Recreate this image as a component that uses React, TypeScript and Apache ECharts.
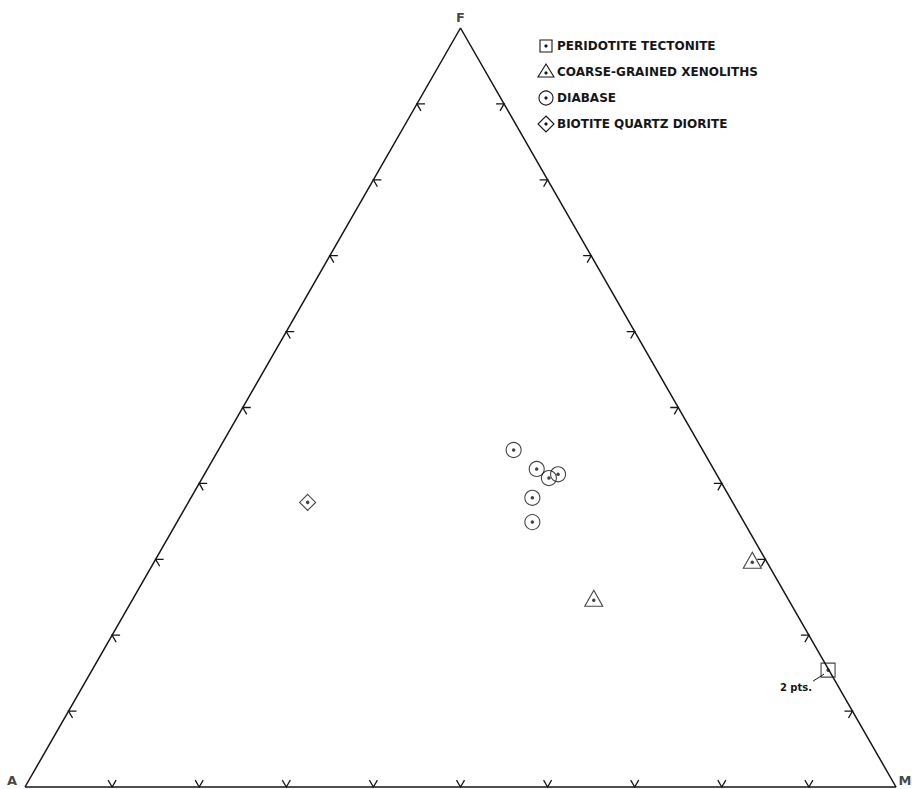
import React, { useEffect, useRef } from "react";
import * as echarts from "echarts";

// Ternary data: [A, F, M] in percent
const vertexNames = ["A", "F", "M"];
const peridotite = [[0.1, 15.4, 84.5]];
const xenoliths = [
  [22.4, 24.6, 53.0],
  [1.7, 29.6, 68.7],
];
const diabase = [
  [21.7, 44.4, 33.9],
  [20.3, 41.9, 37.8],
  [19.5, 40.7, 39.8],
  [18.2, 41.2, 40.6],
  [22.7, 38.1, 39.2],
  [24.3, 34.9, 40.8],
];
const diorite = [[48.8, 37.5, 13.7]];
const tickPercents = [10, 20, 30, 40, 50, 60, 70, 80, 90];
const legendNames = [
  "PERIDOTITE TECTONITE",
  "COARSE-GRAINED XENOLITHS",
  "DIABASE",
  "BIOTITE QUARTZ DIORITE",
];
const pointNote = "2 pts.";

const H = Math.sqrt(3) / 2;
const toXY = (t: number[]) => [t[2] + t[1] / 2, t[1] * H];

export default function App() {
  const ref = useRef<HTMLDivElement>(null);
  useEffect(() => {
    if (!ref.current) return;
    const chart = echarts.init(ref.current, null, { renderer: "svg" });
    const FONT = "DejaVu Sans";
    const ink = "#161616";

    const vA = [100, 0, 0];
    const vF = [0, 100, 0];
    const vM = [0, 0, 100];

    // ticks: [x, y, edge] edge 0 = bottom (A-M), 1 = left (A-F), 2 = right (F-M)
    const ticks: number[][] = [];
    tickPercents.forEach((p) => {
      ticks.push([...toXY([100 - p, 0, p]), 0]);
      ticks.push([...toXY([100 - p, p, 0]), 1]);
      ticks.push([...toXY([0, p, 100 - p]), 2]);
    });

    const c60 = 0.5;
    const s60 = Math.sqrt(3) / 2;
    const armDirs: number[][][] = [
      [
        [-c60, -s60],
        [c60, -s60],
      ],
      [
        [1, 0],
        [c60, s60],
      ],
      [
        [-1, 0],
        [-c60, s60],
      ],
    ];
    const L = 8;

    const outline = {
      color: "rgba(0,0,0,0)",
      borderColor: ink,
      borderWidth: 1.1,
    };

    const allPts = [...peridotite, ...xenoliths, ...diabase, ...diorite];

    chart.setOption({
      animation: false,
      backgroundColor: "#fff",
      grid: { left: 25, right: 16, top: 28, bottom: 2 },
      xAxis: { type: "value", min: 0, max: 100, show: false },
      yAxis: { type: "value", min: 0, max: 100 * H, show: false },
      series: [
        {
          type: "line",
          data: [toXY(vA), toXY(vM), toXY(vF), toXY(vA)],
          symbol: "none",
          lineStyle: { color: ink, width: 1.5 },
          silent: true,
          clip: false,
        },
        {
          type: "custom",
          data: ticks,
          clip: false,
          silent: true,
          renderItem: (params: any, api: any) => {
            const p = api.coord([api.value(0), api.value(1)]);
            const e = api.value(2);
            const d = armDirs[e];
            return {
              type: "polyline",
              shape: {
                points: [
                  [p[0] + d[0][0] * L, p[1] + d[0][1] * L],
                  [p[0], p[1]],
                  [p[0] + d[1][0] * L, p[1] + d[1][1] * L],
                ],
              },
              style: { stroke: ink, lineWidth: 1.3, fill: null },
            };
          },
        },
        {
          type: "scatter",
          name: legendNames[0],
          data: peridotite.map(toXY),
          symbol: "rect",
          symbolSize: 14,
          itemStyle: outline,
        },
        {
          type: "scatter",
          name: legendNames[1],
          data: xenoliths.map(toXY),
          symbol: "triangle",
          symbolSize: [18, 16],
          symbolOffset: [0, -2],
          itemStyle: outline,
        },
        {
          type: "scatter",
          name: legendNames[2],
          data: diabase.map(toXY),
          symbol: "circle",
          symbolSize: 15,
          itemStyle: outline,
        },
        {
          type: "scatter",
          name: legendNames[3],
          data: diorite.map(toXY),
          symbol: "diamond",
          symbolSize: 16,
          itemStyle: outline,
        },
        {
          type: "scatter",
          data: allPts.map(toXY),
          symbol: "circle",
          symbolSize: 3.5,
          itemStyle: { color: ink },
          silent: true,
        },
        {
          type: "scatter",
          data: [
            { value: toXY(vA), name: vertexNames[0], label: { offset: [-13, -7] } },
            { value: toXY(vF), name: vertexNames[1], label: { offset: [0, -11] } },
            { value: toXY(vM), name: vertexNames[2], label: { offset: [9, -7] } },
          ],
          symbolSize: 0,
          clip: false,
          silent: true,
          label: {
            show: true,
            position: "inside",
            formatter: "{b}",
            color: ink,
            fontFamily: FONT,
            fontWeight: "bold",
            fontSize: 13,
          },
        },
      ],
    });

    const sq = chart.convertToPixel({ gridIndex: 0 }, toXY(peridotite[0])) as number[];

    const lx = 546;
    const ly = [46, 72, 98, 124];
    const tx = 557;
    const legendIcons = [
      {
        type: "rect",
        shape: { x: lx - 6, y: ly[0] - 6, width: 12, height: 12 },
        style: { fill: "none", stroke: ink, lineWidth: 1.1 },
      },
      {
        type: "polygon",
        shape: {
          points: [
            [lx, ly[1] - 8],
            [lx - 8, ly[1] + 5],
            [lx + 8, ly[1] + 5],
          ],
        },
        style: { fill: "none", stroke: ink, lineWidth: 1.1 },
      },
      {
        type: "circle",
        shape: { cx: lx, cy: ly[2], r: 7 },
        style: { fill: "none", stroke: ink, lineWidth: 1.1 },
      },
      {
        type: "polygon",
        shape: {
          points: [
            [lx, ly[3] - 8],
            [lx + 8, ly[3]],
            [lx, ly[3] + 8],
            [lx - 8, ly[3]],
          ],
        },
        style: { fill: "none", stroke: ink, lineWidth: 1.1 },
      },
    ];
    const legendDots = ly.map((y, i) => ({
      type: "circle",
      shape: { cx: lx, cy: i === 1 ? y + 1 : y, r: 1.6 },
      style: { fill: ink },
    }));
    const legendTexts = legendNames.map((n, i) => ({
      type: "text",
      x: tx,
      y: ly[i],
      style: {
        text: n,
        fill: ink,
        font: `bold 12px "${FONT}"`,
        verticalAlign: "middle",
        align: "left",
      },
    }));

    chart.setOption({
      graphic: [
        ...legendIcons,
        ...legendDots,
        ...legendTexts,
        {
          type: "line",
          shape: { x1: sq[0] - 15, y1: sq[1] + 11, x2: sq[0] - 4, y2: sq[1] + 4 },
          style: { stroke: ink, lineWidth: 1 },
        },
        {
          type: "text",
          x: sq[0] - 16,
          y: sq[1] + 17,
          style: {
            text: pointNote,
            fill: ink,
            font: `bold 10px "${FONT}"`,
            align: "right",
            verticalAlign: "middle",
          },
        },
      ],
    });

    return () => chart.dispose();
  }, []);
  return (
    <div
      ref={ref}
      style={{ position: "fixed", left: 0, top: 0, width: 912, height: 789 }}
    />
  );
}
